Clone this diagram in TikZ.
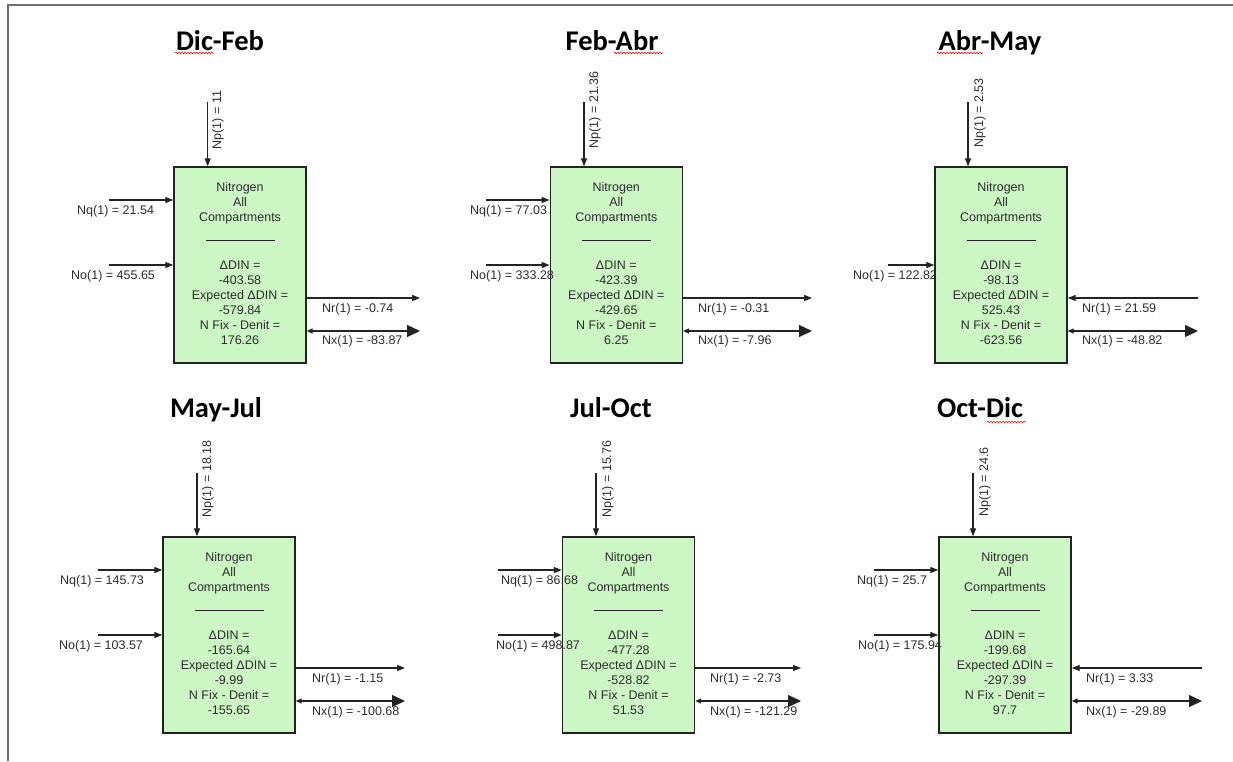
\documentclass[tikz,border=0pt]{standalone}
\usepackage{fontspec}
\setmainfont{Liberation Sans}
\newfontfamily\titlefont{Carlito}
\usetikzlibrary{arrows.meta,calc,decorations.pathmorphing}
\definecolor{boxgreen}{RGB}{204,246,196}
\definecolor{txt}{RGB}{45,45,45}
\definecolor{ln}{RGB}{35,35,35}
\definecolor{frame}{RGB}{110,110,110}
\tikzset{
  box/.style={draw=ln, line width=1.4pt, fill=boxgreen, minimum width=132pt, minimum height=196pt, inner sep=0pt},
  lbl/.style={text=txt, font=\fontsize{12.5}{15}\selectfont, inner sep=0pt, anchor=west},
  plbl/.style={text=txt, font=\fontsize{12.5}{15}\selectfont, inner sep=0pt, rotate=90},
  btxt/.style={text=txt, font=\fontsize{12.5}{15}\selectfont, align=center, inner sep=0pt},
  ttl/.style={font=\titlefont\bfseries\fontsize{28.5}{32}\selectfont, anchor=base, inner sep=0pt},
  arr/.style={draw=ln, line width=1.2pt, -{Triangle[length=8pt,width=6pt]}},
  arrin/.style={draw=ln, line width=1.2pt, -{Triangle[length=8pt,width=6pt]}},
  arrx/.style={draw=ln, line width=1.2pt, {Triangle[length=6pt,width=5pt]}-{Triangle[length=13pt,width=12pt]}},
  spell/.style={draw=red, line width=0.6pt, decorate, decoration={snake, amplitude=0.8pt, segment length=3pt}},
}
\newcommand\boxtexts[4]{%
  \node[btxt] (#1-up) at ($(#1.north)+(0,37)$) {Nitrogen\\All\\Compartments};
  \draw[ln, line width=1pt] ($(#1.north)+(-34.5,74)$) -- ($(#1.north)+(34.5,74)$);
  \node[btxt] (#1-lo) at ($(#1.north)+(0,136)$) {ΔDIN =\\#2\\Expected ΔDIN =\\#3\\N Fix - Denit =\\#4};
}
\begin{document}
\begin{tikzpicture}[x=1pt,y=-1pt]
\useasboundingbox (0,0) rectangle (1233,761);
\fill[white] (0,0) rectangle (1233,761);
% frame
\draw[frame, line width=2pt] (8,761) -- (8,5) -- (1233,5);

% ---------- Panel 1: Dic-Feb
\node[ttl] (t1) at (220,50) {Dic-Feb};
\draw[spell] (175,53) -- (213,53);
\node[box] (b1) at (240,265) {};
\boxtexts{b1}{-403.58}{-579.84}{176.26}
\coordinate (p1) at (207.7,102);
\coordinate (q1) at (109,200);
\coordinate (o1) at (109,265);
\coordinate (r1) at (420,298);
\coordinate (x1) at (420,331);
\draw[arr] (p1) -- (p1 |- b1.north);
\draw[arr] (q1) -- (q1 -| b1.west);
\draw[arr] (o1) -- (o1 -| b1.west);
\draw[arr] (r1 -| b1.east) -- (r1);
\draw[arrx] (x1 -| b1.east) -- (x1);
\node[plbl] (pl1) at (218,120) {Np(1) = 11};
\node[lbl] (ql1) at (77,211) {Nq(1) = 21.54};
\node[lbl] (ol1) at (71,276) {No(1) = 455.65};
\node[lbl] (rl1) at (322,309) {Nr(1) = -0.74};
\node[lbl] (xl1) at (322,341) {Nx(1) = -83.87};

% ---------- Panel 2: Feb-Abr
\node[ttl] (t2) at (612,50) {Feb-Abr};
\draw[spell] (614,53) -- (663,53);
\node[box] (b2) at (616.3,265) {};
\boxtexts{b2}{-423.39}{-429.65}{6.25}
\coordinate (p2) at (584,102);
\coordinate (q2) at (486,200);
\coordinate (o2) at (486,265);
\coordinate (r2) at (812,298);
\coordinate (x2) at (812,331);
\draw[arr] (p2) -- (p2 |- b2.north);
\draw[arr] (q2) -- (q2 -| b2.west);
\draw[arr] (o2) -- (o2 -| b2.west);
\draw[arr] (r2 -| b2.east) -- (r2);
\draw[arrx] (x2 -| b2.east) -- (x2);
\node[plbl] (pl2) at (595,110) {Np(1) = 21.36};
\node[lbl] (ql2) at (470,211) {Nq(1) = 77.03};
\node[lbl] (ol2) at (470,276) {No(1) = 333.28};
\node[lbl] (rl2) at (698,309) {Nr(1) = -0.31};
\node[lbl] (xl2) at (698,341) {Nx(1) = -7.96};

% ---------- Panel 3: Abr-May
\node[ttl] (t3) at (990,50) {Abr-May};
\draw[spell] (937,53) -- (983,53);
\node[box] (b3) at (1001,265) {};
\boxtexts{b3}{-98.13}{525.43}{-623.56}
\coordinate (p3) at (968,102);
\coordinate (o3) at (888,265);
\coordinate (r3) at (1198,298);
\coordinate (x3) at (1198,331);
\draw[arr] (p3) -- (p3 |- b3.north);
\draw[arr] (o3) -- (o3 -| b3.west);
\draw[arrin] (r3) -- (r3 -| b3.east);
\draw[arrx] (x3 -| b3.east) -- (x3);
\node[plbl] (pl3) at (980,113) {Np(1) = 2.53};
\node[lbl] (ol3) at (853,276) {No(1) = 122.82};
\node[lbl] (rl3) at (1082,309) {Nr(1) = 21.59};
\node[lbl] (xl3) at (1082,341) {Nx(1) = -48.82};

% ---------- Panel 4: May-Jul
\node[ttl] (t4) at (216,417) {May-Jul};
\node[box] (b4) at (229,635) {};
\boxtexts{b4}{-165.64}{-9.99}{-155.65}
\coordinate (p4) at (197,473);
\coordinate (q4) at (98,570);
\coordinate (o4) at (98,635);
\coordinate (r4) at (405,668);
\coordinate (x4) at (405,701);
\draw[arr] (p4) -- (p4 |- b4.north);
\draw[arr] (q4) -- (q4 -| b4.west);
\draw[arr] (o4) -- (o4 -| b4.west);
\draw[arr] (r4 -| b4.east) -- (r4);
\draw[arrx] (x4 -| b4.east) -- (x4);
\node[plbl] (pl4) at (208,479) {Np(1) = 18.18};
\node[lbl] (ql4) at (60,581) {Nq(1) = 145.73};
\node[lbl] (ol4) at (59,646) {No(1) = 103.57};
\node[lbl] (rl4) at (312,679) {Nr(1) = -1.15};
\node[lbl] (xl4) at (312,712) {Nx(1) = -100.68};

% ---------- Panel 5: Jul-Oct
\node[ttl] (t5) at (611,417) {Jul-Oct};
\node[box] (b5) at (628.5,635) {};
\boxtexts{b5}{-477.28}{-528.82}{51.53}
\coordinate (p5) at (596,473);
\coordinate (q5) at (498,570);
\coordinate (o5) at (498,635);
\coordinate (r5) at (801,668);
\coordinate (x5) at (801,701);
\draw[arr] (p5) -- (p5 |- b5.north);
\draw[arr] (q5) -- (q5 -| b5.west);
\draw[arr] (o5) -- (o5 -| b5.west);
\draw[arr] (r5 -| b5.east) -- (r5);
\draw[arrx] (x5 -| b5.east) -- (x5);
\node[plbl] (pl5) at (608,479) {Np(1) = 15.76};
\node[lbl] (ql5) at (501,581) {Nq(1) = 86.68};
\node[lbl] (ol5) at (496,646) {No(1) = 498.87};
\node[lbl] (rl5) at (710,679) {Nr(1) = -2.73};
\node[lbl] (xl5) at (710,712) {Nx(1) = -121.29};

% ---------- Panel 6: Oct-Dic
\node[ttl] (t6) at (980,417) {Oct-Dic};
\draw[spell] (987,422) -- (1026,422);
\node[box] (b6) at (1005,635) {};
\boxtexts{b6}{-199.68}{-297.39}{97.7}
\coordinate (p6) at (973,473);
\coordinate (q6) at (874,570);
\coordinate (o6) at (874,635);
\coordinate (r6) at (1202,668);
\coordinate (x6) at (1202,701);
\draw[arr] (p6) -- (p6 |- b6.north);
\draw[arr] (q6) -- (q6 -| b6.west);
\draw[arr] (o6) -- (o6 -| b6.west);
\draw[arrin] (r6) -- (r6 -| b6.east);
\draw[arrx] (x6 -| b6.east) -- (x6);
\node[plbl] (pl6) at (985,482) {Np(1) = 24.6};
\node[lbl] (ql6) at (857,581) {Nq(1) = 25.7};
\node[lbl] (ol6) at (858,646) {No(1) = 175.94};
\node[lbl] (rl6) at (1086,679) {Nr(1) = 3.33};
\node[lbl] (xl6) at (1086,712) {Nx(1) = -29.89};
\end{tikzpicture}
\end{document}
